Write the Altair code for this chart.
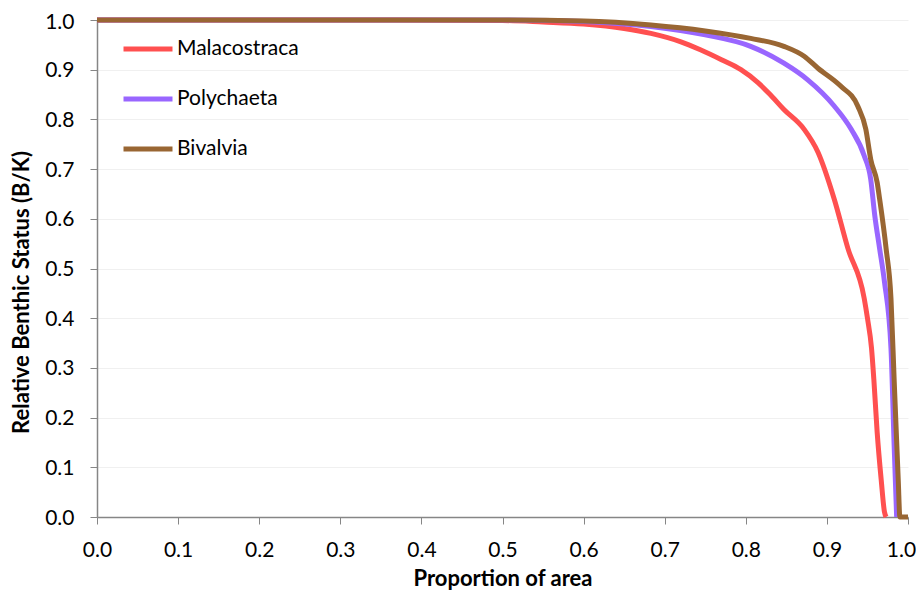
import altair as alt
import pandas as pd

series_names = ["Malacostraca", "Polychaeta", "Bivalvia"]
series_colors = ["#FF5050", "#9966FF", "#996633"]

mala_x = [0.0, 0.3, 0.5, 0.55, 0.6, 0.65, 0.683, 0.72, 0.744, 0.77, 0.794, 0.815, 0.83, 0.847,
          0.872, 0.889, 0.909, 0.926, 0.946, 0.95, 0.955, 0.958, 0.962, 0.967, 0.971, 0.973]
mala_y = [1.0, 1.0, 0.999, 0.996, 0.992, 0.983, 0.973, 0.956, 0.94, 0.92, 0.90, 0.874, 0.85, 0.82,
          0.78, 0.734, 0.64, 0.54, 0.44, 0.40, 0.34, 0.274, 0.17, 0.074, 0.01, 0.0]

poly_x = [0.0, 0.5, 0.56, 0.6, 0.683, 0.75, 0.806, 0.847, 0.876, 0.909, 0.93, 0.946, 0.954,
          0.959, 0.965, 0.971, 0.979, 0.983, 0.986]
poly_y = [1.0, 1.0, 0.999, 0.997, 0.987, 0.97, 0.947, 0.913, 0.88, 0.827, 0.78, 0.727, 0.68,
          0.607, 0.54, 0.473, 0.34, 0.14, 0.0]

biv_x = [0.0, 0.5, 0.6, 0.683, 0.75, 0.806, 0.847, 0.872, 0.889, 0.917, 0.938, 0.948, 0.954,
         0.962, 0.965, 0.973, 0.979, 0.983, 0.988, 0.990, 1.0]
biv_y = [1.0, 1.0, 0.998, 0.99, 0.978, 0.963, 0.947, 0.927, 0.903, 0.867, 0.827, 0.78, 0.72,
         0.673, 0.64, 0.54, 0.44, 0.273, 0.073, 0.0, 0.0]

rows = []
for name, xs, ys in [("Malacostraca", mala_x, mala_y), ("Polychaeta", poly_x, poly_y), ("Bivalvia", biv_x, biv_y)]:
    for i, (x, y) in enumerate(zip(xs, ys)):
        rows.append({"series": name, "x": x, "y": y, "order": i})
df = pd.DataFrame(rows)

FONT = "Lato"
ticks = [i / 10 for i in range(11)]

chart = alt.Chart(df).mark_line(strokeWidth=5, interpolate="monotone").encode(
    x=alt.X("x:Q", title="Proportion of area",
            scale=alt.Scale(domain=[0, 1], nice=False),
            axis=alt.Axis(values=ticks, format=".1f", grid=False, labelFlush=False,
                          tickSize=7, labelPadding=15, titlePadding=8,
                          labelOffset={"condition": {"test": "datum.value >= 1", "value": -7}, "value": 0},
                          domainColor="#868686", tickColor="#868686", domainWidth=1.5,
                          labelFontSize=21, titleFontSize=22, titleFontWeight="bold",
                          labelColor="#000", titleColor="#000", labelFont=FONT, titleFont=FONT)),
    y=alt.Y("y:Q", title="Relative Benthic Status (B/K)",
            scale=alt.Scale(domain=[0, 1], nice=False),
            axis=alt.Axis(values=ticks, format=".1f", grid=True,
                          gridColor="#F0F0F0", tickSize=7, labelPadding=16, titlePadding=11,
                          titleY=272,
                          labelOffset={"condition": {"test": "datum.value >= 1", "value": 2}, "value": 1},
                          domainColor="#868686", tickColor="#868686", domainWidth=1.5,
                          labelFontSize=21, titleFontSize=22, titleFontWeight="bold",
                          labelColor="#000", titleColor="#000", labelFont=FONT, titleFont=FONT)),
    color=alt.Color("series:N", scale=alt.Scale(domain=series_names, range=series_colors),
                    legend=alt.Legend(title=None, orient="none", legendX=24, legendY=2,
                                      symbolType="stroke", symbolSize=2400, symbolStrokeWidth=5,
                                      labelFontSize=21, labelFont=FONT, labelColor="#000",
                                      rowPadding=13, labelOffset=2)),
    order="order:Q",
).properties(
    width=811, height=497,
    autosize=alt.AutoSizeParams(type="none"),
    padding={"left": 89, "top": 12, "right": 8, "bottom": 73},
).configure_view(stroke=None)

chart.save("out.html", embed_options={"renderer": "svg", "actions": False})
